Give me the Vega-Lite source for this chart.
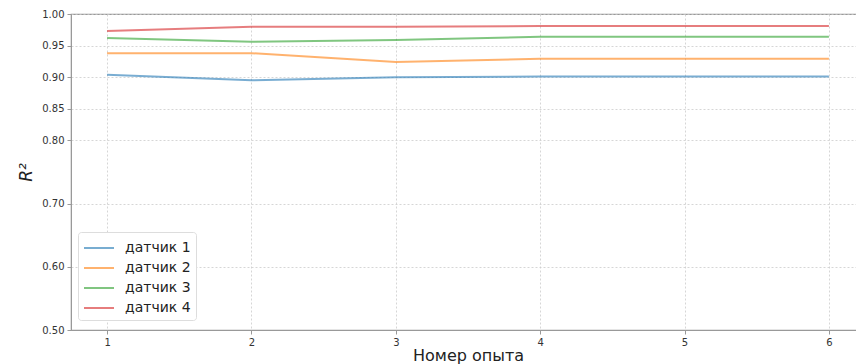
{
  "$schema": "https://vega.github.io/schema/vega-lite/v6.json",
  "autosize": "none",
  "padding": {"left": 71, "top": 14, "right": 0, "bottom": 34},
  "width": 794,
  "height": 316,
  "config": {
    "font": "DejaVu Sans",
    "view": {"stroke": "#999999", "strokeWidth": 1.2},
    "axis": {
      "labelFont": "DejaVu Sans",
      "titleFont": "DejaVu Sans",
      "labelColor": "#333333",
      "titleColor": "#222222",
      "labelFontSize": 10,
      "titleFontSize": 16,
      "titleFontWeight": "normal",
      "domainColor": "#999999",
      "tickColor": "#999999",
      "tickSize": 4,
      "gridColor": "#cccccc",
      "gridDash": [2, 2],
      "gridWidth": 0.8
    }
  },
  "data": {
    "values": [
      {"x": 1, "y": 0.904, "s": "датчик 1"},
      {"x": 2, "y": 0.895, "s": "датчик 1"},
      {"x": 3, "y": 0.900, "s": "датчик 1"},
      {"x": 4, "y": 0.901, "s": "датчик 1"},
      {"x": 5, "y": 0.901, "s": "датчик 1"},
      {"x": 6, "y": 0.901, "s": "датчик 1"},
      {"x": 1, "y": 0.938, "s": "датчик 2"},
      {"x": 2, "y": 0.938, "s": "датчик 2"},
      {"x": 3, "y": 0.924, "s": "датчик 2"},
      {"x": 4, "y": 0.929, "s": "датчик 2"},
      {"x": 5, "y": 0.929, "s": "датчик 2"},
      {"x": 6, "y": 0.929, "s": "датчик 2"},
      {"x": 1, "y": 0.962, "s": "датчик 3"},
      {"x": 2, "y": 0.956, "s": "датчик 3"},
      {"x": 3, "y": 0.959, "s": "датчик 3"},
      {"x": 4, "y": 0.964, "s": "датчик 3"},
      {"x": 5, "y": 0.964, "s": "датчик 3"},
      {"x": 6, "y": 0.964, "s": "датчик 3"},
      {"x": 1, "y": 0.973, "s": "датчик 4"},
      {"x": 2, "y": 0.980, "s": "датчик 4"},
      {"x": 3, "y": 0.980, "s": "датчик 4"},
      {"x": 4, "y": 0.981, "s": "датчик 4"},
      {"x": 5, "y": 0.981, "s": "датчик 4"},
      {"x": 6, "y": 0.981, "s": "датчик 4"}
    ]
  },
  "mark": {"type": "line", "strokeWidth": 2, "strokeOpacity": 0.6},
  "encoding": {
    "x": {
      "field": "x",
      "type": "quantitative",
      "scale": {"domain": [0.75, 6.25], "nice": false, "zero": false},
      "axis": {"values": [1, 2, 3, 4, 5, 6], "format": "d", "title": "Номер опыта", "titleFontSize": 16, "titlePadding": 0, "labelPadding": 3}
    },
    "y": {
      "field": "y",
      "type": "quantitative",
      "scale": {"domain": [0.5, 1.0], "nice": false, "zero": false},
      "axis": {"values": [0.5, 0.6, 0.7, 0.8, 0.85, 0.9, 0.95, 1.0], "format": ".2f", "title": "R²", "titleFontStyle": "italic", "titleFontSize": 17, "titlePadding": 6, "labelPadding": 3}
    },
    "color": {
      "field": "s",
      "type": "nominal",
      "scale": {"range": ["#1f77b4", "#ff7f0e", "#2ca02c", "#d62728"]},
      "legend": {
        "title": null,
        "orient": "none",
        "legendX": 7,
        "legendY": 218,
        "symbolType": "M-1.5,0H1.5",
        "symbolSize": 400,
        "symbolOffset": 5,
        "symbolStrokeWidth": 2,
        "symbolOpacity": 0.6,
        "labelFontSize": 14,
        "labelColor": "#222222",
        "labelOffset": 15,
        "rowPadding": 2,
        "padding": 5,
        "strokeColor": "#dddddd",
        "fillColor": "#ffffff",
        "cornerRadius": 3
      }
    }
  }
}
